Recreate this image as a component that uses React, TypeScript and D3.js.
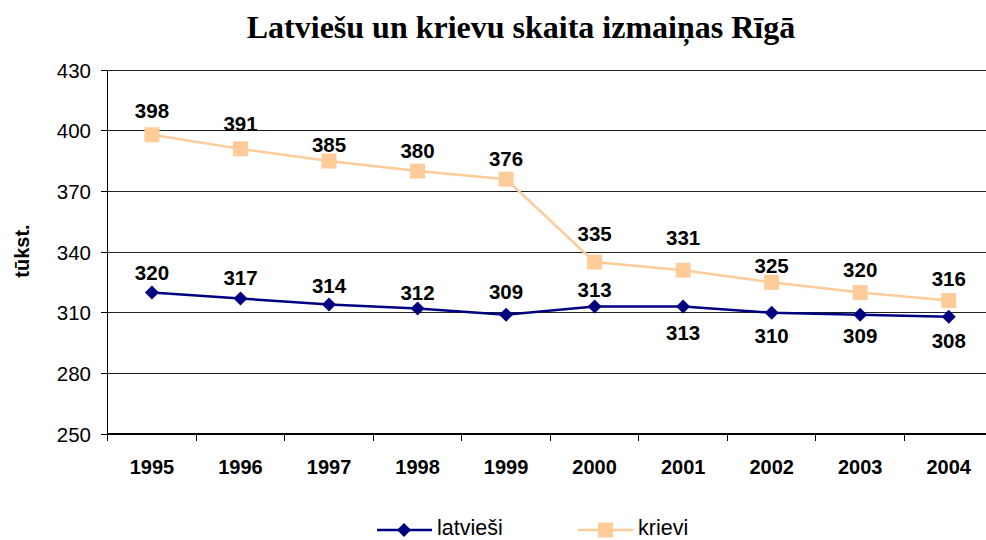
import React from 'react'
import * as d3 from 'd3'

// values (tūkst.)
const years = ['1995', '1996', '1997', '1998', '1999', '2000', '2001', '2002', '2003', '2004']
const latviesi = [320, 317, 314, 312, 309, 313, 313, 310, 309, 308]
const krievi = [398, 391, 385, 380, 376, 335, 331, 325, 320, 316]
const yTicks = [250, 280, 310, 340, 370, 400, 430]

// data labels were nudged by hand in the original, so keep their vertical offsets (px from the point)
const krieviLabelDy = [-16.5, -18, -9.5, -13.5, -13.5, -21, -25.5, -9.5, -15, -15]
const latvLabelDy = [-12.5, -13.5, -11.5, -9, -15.5, -10, 33, 30.5, 28, 31.5]

export default function App() {
  const W = 986
  const H = 540
  const left = 107.7
  const right = 993 // plot area runs slightly past the picture edge
  const top = 70
  const bottom = 434

  const x = d3.scaleBand().domain(years).range([left, right])
  const y = d3.scaleLinear().domain([250, 430]).range([bottom, top])
  const cx = (yr: string) => (x(yr) as number) + x.bandwidth() / 2

  const line = d3.line<number>()
    .x((_, i) => cx(years[i]))
    .y(d => y(d))

  const diamond = (px: number, py: number, r: number) =>
    `M${px},${py - r}L${px + r},${py}L${px},${py + r}L${px - r},${py}Z`

  const font = 'Arial, "Liberation Sans", sans-serif'

  return (
    <svg width={W} height={H} style={{ position: 'absolute', left: 0, top: 0 }}>
      <rect width={W} height={H} fill="#fff" />
      <text x={521} y={38} textAnchor="middle" fontFamily='"Times New Roman", "Liberation Serif", serif'
        fontWeight="bold" fontSize={32}>Latviešu un krievu skaita izmaiņas Rīgā</text>

      {/* grid */}
      {yTicks.map(t => (
        <g key={t}>
          <line x1={left} x2={right} y1={y(t)} y2={y(t)} stroke="#222" strokeWidth={1} shapeRendering="crispEdges" />
          <line x1={left - 7} x2={left} y1={y(t)} y2={y(t)} stroke="#000" shapeRendering="crispEdges" />
          <text x={91} y={y(t) + 7.5} textAnchor="end" fontFamily={font} fontSize={20.5}>{t}</text>
        </g>
      ))}
      <line x1={left} x2={left} y1={top} y2={bottom} stroke="#000" strokeWidth={1.5} shapeRendering="crispEdges" />
      <line x1={left} x2={right} y1={bottom} y2={bottom} stroke="#000" strokeWidth={1.5} shapeRendering="crispEdges" />
      {years.map(yr => (
        <line key={'t' + yr} x1={x(yr) as number} x2={x(yr) as number} y1={bottom} y2={bottom + 7}
          stroke="#000" shapeRendering="crispEdges" />
      ))}
      {years.map(yr => (
        <text key={'l' + yr} x={cx(yr)} y={474} textAnchor="middle" fontFamily={font}
          fontWeight="bold" fontSize={20}>{yr}</text>
      ))}
      <text transform="translate(29,251) rotate(-90)" textAnchor="middle" fontFamily={font}
        fontWeight="bold" fontSize={20}>tūkst.</text>

      {/* series */}
      <path d={line(krievi) as string} fill="none" stroke="#FFCC99" strokeWidth={2.5} />
      <path d={line(latviesi) as string} fill="none" stroke="#000080" strokeWidth={2.5} />
      {krievi.map((v, i) => (
        <g key={'k' + i}>
          <rect x={cx(years[i]) - 7.5} y={y(v) - 7.5} width={15} height={15} fill="#FFCC99" />
          <text x={cx(years[i])} y={y(v) + krieviLabelDy[i]} textAnchor="middle" fontFamily={font}
            fontWeight="bold" fontSize={20.5}>{v}</text>
        </g>
      ))}
      {latviesi.map((v, i) => (
        <g key={'lv' + i}>
          <path d={diamond(cx(years[i]), y(v), 7)} fill="#000080" />
          <text x={cx(years[i])} y={y(v) + latvLabelDy[i]} textAnchor="middle"
            fontFamily={font} fontWeight="bold" fontSize={20.5}>{v}</text>
        </g>
      ))}

      {/* legend */}
      <line x1={377} x2={432} y1={530} y2={530} stroke="#000080" strokeWidth={2.5} />
      <path d={diamond(404, 530, 7)} fill="#000080" />
      <text x={437} y={535} fontFamily={font} fontSize={21.5}>latvieši</text>
      <line x1={578} x2={633} y1={530} y2={530} stroke="#FFCC99" strokeWidth={2.5} />
      <rect x={598} y={522.5} width={15} height={15} fill="#FFCC99" />
      <text x={638} y={535} fontFamily={font} fontSize={21.5}>krievi</text>
    </svg>
  )
}
